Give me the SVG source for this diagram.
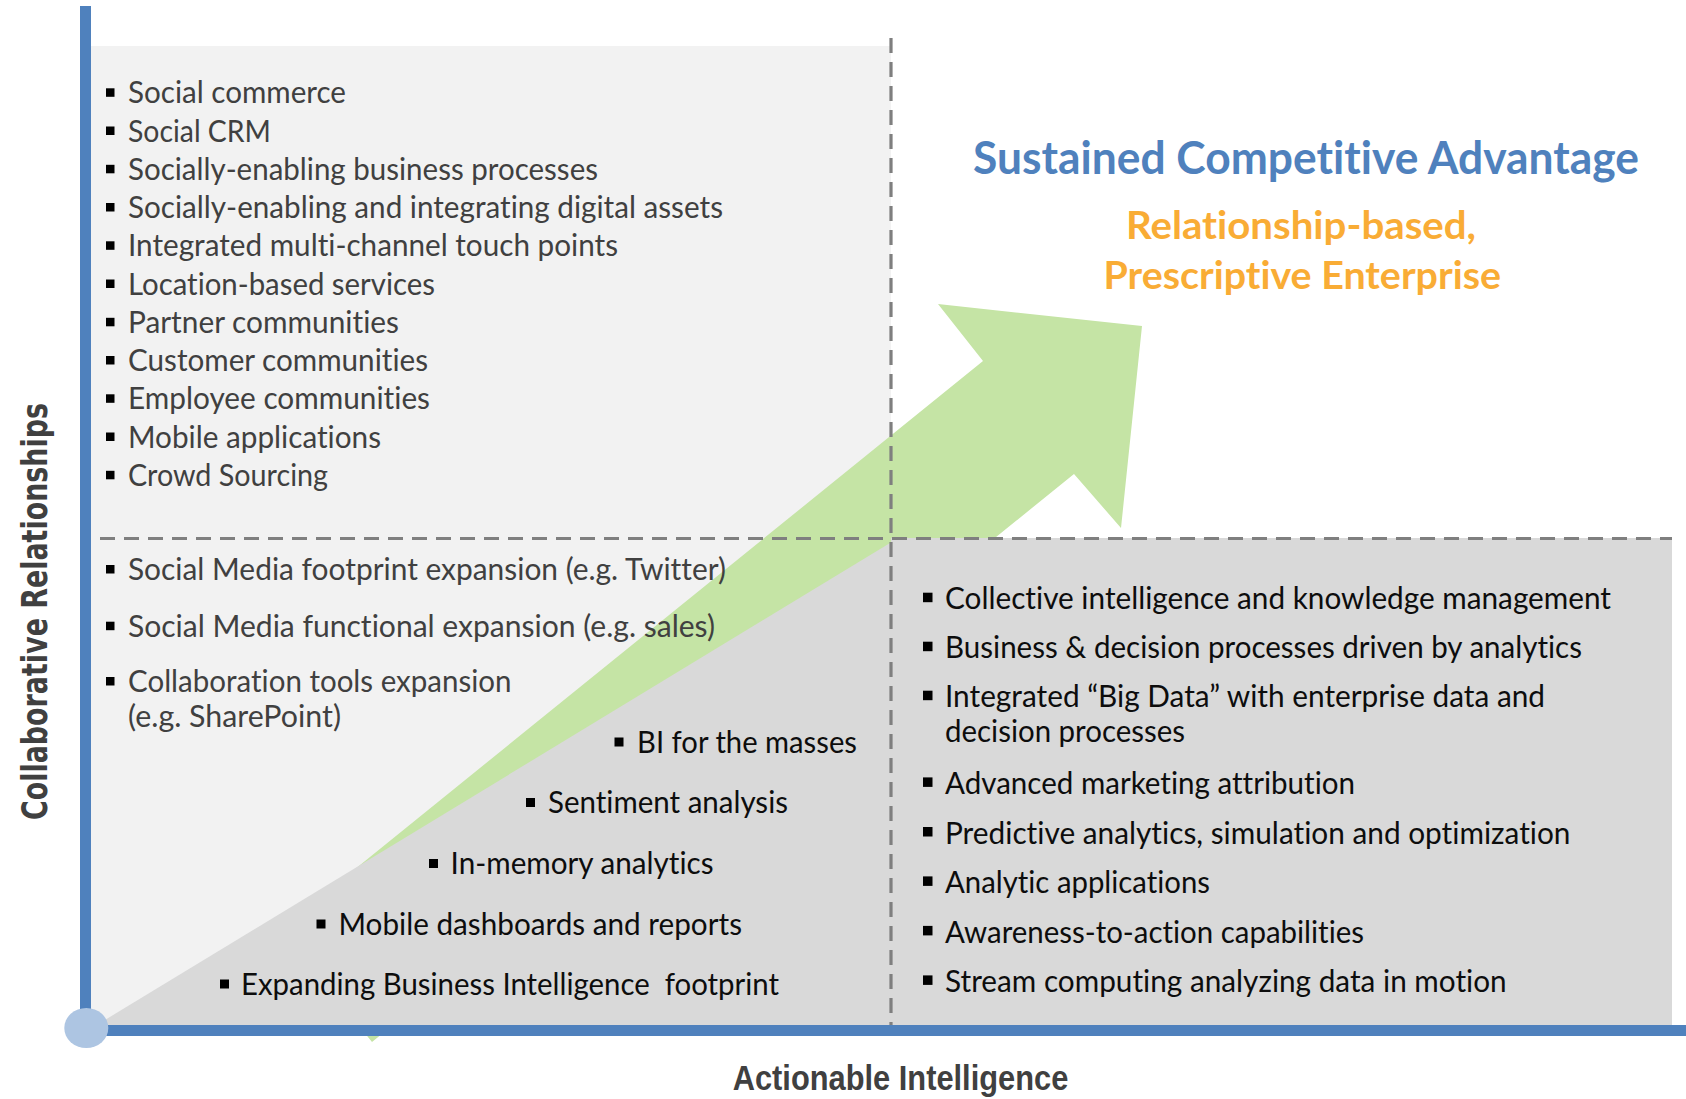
<svg xmlns="http://www.w3.org/2000/svg" width="1686" height="1099" viewBox="0 0 1686 1099">
<style>
text{font-variant-ligatures:none;font-feature-settings:"liga" 0,"clig" 0,"dlig" 0}
.t{font-family:Lato,"Liberation Sans",sans-serif;font-size:30px}
.g{fill:#404040}
.k{fill:#0d0d0d}
.bul{fill:#000}
.dash{stroke:#7f7f7f;stroke-width:3.2;stroke-dasharray:15 9;fill:none}
.axis{fill:#4f81bd}
.h1{font-family:Lato,"Liberation Sans",sans-serif;font-weight:700;font-size:46px;fill:#4f81bd}
.h2{font-family:Lato,"Liberation Sans",sans-serif;font-weight:700;font-size:39px;fill:#f9ac35}
.lab{font-weight:700;fill:#404040}
</style>
<rect width="1686" height="1099" fill="#fff"/>

<g id="quadrant-top-left">
<rect x="91" y="46" width="800" height="980" fill="#f2f2f2"/>
</g>

<g id="growth-arrow">
<polygon points="281,929 983,361 938,304 1142,326 1121,528 1074,474 372,1042" fill="#c5e4a5"/>
</g>

<g id="quadrant-bottom">
<polygon points="95,1026 895,540 895,1026" fill="#d9d9d9"/>
<rect x="891" y="538" width="781" height="488" fill="#d9d9d9"/>
</g>

<g id="connectors">
<line class="dash" x1="891" y1="38" x2="891" y2="1030"/>
<line class="dash" x1="100" y1="538.5" x2="1672" y2="538.5"/>
<rect class="axis" x="80" y="6" width="11" height="1030"/>
<rect class="axis" x="86" y="1025" width="1600" height="11"/>
<ellipse cx="86.3" cy="1028" rx="22" ry="20" fill="#adc5e2"/>
</g>

<g id="list-social">
<rect class="bul" x="106" y="88.3" width="8.5" height="8.5"/><text class="t g" x="128" y="103.3" textLength="218" lengthAdjust="spacingAndGlyphs">Social commerce</text>
<rect class="bul" x="106" y="126.5" width="8.5" height="8.5"/><text class="t g" x="128" y="141.5" textLength="143" lengthAdjust="spacingAndGlyphs">Social CRM</text>
<rect class="bul" x="106" y="164.8" width="8.5" height="8.5"/><text class="t g" x="128" y="179.8" textLength="470" lengthAdjust="spacingAndGlyphs">Socially-enabling business processes</text>
<rect class="bul" x="106" y="203" width="8.5" height="8.5"/><text class="t g" x="128" y="218" textLength="595" lengthAdjust="spacingAndGlyphs">Socially-enabling and integrating digital assets</text>
<rect class="bul" x="106" y="241.3" width="8.5" height="8.5"/><text class="t g" x="128" y="256.3" textLength="490" lengthAdjust="spacingAndGlyphs">Integrated multi-channel touch points</text>
<rect class="bul" x="106" y="279.5" width="8.5" height="8.5"/><text class="t g" x="128" y="294.5" textLength="307" lengthAdjust="spacingAndGlyphs">Location-based services</text>
<rect class="bul" x="106" y="317.8" width="8.5" height="8.5"/><text class="t g" x="128" y="332.8" textLength="271" lengthAdjust="spacingAndGlyphs">Partner communities</text>
<rect class="bul" x="106" y="356" width="8.5" height="8.5"/><text class="t g" x="128" y="371" textLength="300" lengthAdjust="spacingAndGlyphs">Customer communities</text>
<rect class="bul" x="106" y="394.3" width="8.5" height="8.5"/><text class="t g" x="128" y="409.3" textLength="302" lengthAdjust="spacingAndGlyphs">Employee communities</text>
<rect class="bul" x="106" y="432.5" width="8.5" height="8.5"/><text class="t g" x="128" y="447.5" textLength="253" lengthAdjust="spacingAndGlyphs">Mobile applications</text>
<rect class="bul" x="106" y="470.8" width="8.5" height="8.5"/><text class="t g" x="128" y="485.8" textLength="200" lengthAdjust="spacingAndGlyphs">Crowd Sourcing</text>
</g>

<g id="list-social-media">
<rect class="bul" x="106" y="565" width="8.5" height="8.5"/><text class="t g" x="128" y="580" textLength="598" lengthAdjust="spacingAndGlyphs">Social Media footprint expansion (e.g. Twitter)</text>
<rect class="bul" x="106" y="621.7" width="8.5" height="8.5"/><text class="t g" x="128" y="636.7" textLength="587" lengthAdjust="spacingAndGlyphs">Social Media functional expansion (e.g. sales)</text>
<rect class="bul" x="106" y="677" width="8.5" height="8.5"/><text class="t g" x="128" y="692" textLength="383.5" lengthAdjust="spacingAndGlyphs">Collaboration tools expansion</text>
<text class="t g" x="128" y="726.5" textLength="213" lengthAdjust="spacingAndGlyphs">(e.g. SharePoint)</text>
</g>

<g id="list-bi">
<rect class="bul" x="614.5" y="737.5" width="9" height="9"/><text class="t k" x="637" y="752.5" textLength="220" lengthAdjust="spacingAndGlyphs">BI for the masses</text>
<rect class="bul" x="526" y="798" width="9" height="9"/><text class="t k" x="548" y="813" textLength="240" lengthAdjust="spacingAndGlyphs">Sentiment analysis</text>
<rect class="bul" x="429" y="859" width="9" height="9"/><text class="t k" x="450.6" y="874" textLength="263" lengthAdjust="spacingAndGlyphs">In-memory analytics</text>
<rect class="bul" x="316.5" y="919.5" width="9" height="9"/><text class="t k" x="338.5" y="934.5" textLength="403.5" lengthAdjust="spacingAndGlyphs">Mobile dashboards and reports</text>
<rect class="bul" x="220" y="979.5" width="9" height="9"/><text class="t k" x="241" y="994.5" textLength="538" lengthAdjust="spacingAndGlyphs" xml:space="preserve">Expanding Business Intelligence  footprint</text>
</g>

<g id="list-analytics">
<rect class="bul" x="923" y="592.7" width="9.5" height="9.5"/><text class="t k" x="945" y="609.3" textLength="666" lengthAdjust="spacingAndGlyphs">Collective intelligence and knowledge management</text>
<rect class="bul" x="923" y="641.7" width="9.5" height="9.5"/><text class="t k" x="945" y="658.3" textLength="637" lengthAdjust="spacingAndGlyphs">Business &amp; decision processes driven by analytics</text>
<rect class="bul" x="923" y="690.7" width="9.5" height="9.5"/><text class="t k" x="945" y="707.3" textLength="600" lengthAdjust="spacingAndGlyphs">Integrated “Big Data” with enterprise data and</text>
<text class="t k" x="945" y="741.7" textLength="240" lengthAdjust="spacingAndGlyphs">decision processes</text>
<rect class="bul" x="923" y="777.4" width="9.5" height="9.5"/><text class="t k" x="945" y="794" textLength="410" lengthAdjust="spacingAndGlyphs">Advanced marketing attribution</text>
<rect class="bul" x="923" y="827" width="9.5" height="9.5"/><text class="t k" x="945" y="843.6" textLength="625.5" lengthAdjust="spacingAndGlyphs">Predictive analytics, simulation and optimization</text>
<rect class="bul" x="923" y="876.4" width="9.5" height="9.5"/><text class="t k" x="945" y="893" textLength="265" lengthAdjust="spacingAndGlyphs">Analytic applications</text>
<rect class="bul" x="923" y="925.9" width="9.5" height="9.5"/><text class="t k" x="945" y="942.5" textLength="419" lengthAdjust="spacingAndGlyphs">Awareness-to-action capabilities</text>
<rect class="bul" x="923" y="975.4" width="9.5" height="9.5"/><text class="t k" x="945" y="992" textLength="561.7" lengthAdjust="spacingAndGlyphs">Stream computing analyzing data in motion</text>
</g>

<g id="title">
<text class="h1" x="973" y="174" textLength="666" lengthAdjust="spacingAndGlyphs">Sustained Competitive Advantage</text>
<text class="h2" x="1126" y="239" textLength="350" lengthAdjust="spacingAndGlyphs">Relationship-based,</text>
<text class="h2" x="1103.5" y="289" textLength="397.5" lengthAdjust="spacingAndGlyphs">Prescriptive Enterprise</text>
</g>

<g id="axis-y-label">
<text class="lab" transform="translate(46.7 820) rotate(-90)" x="0" y="0" font-family="'DejaVu Sans',Verdana,sans-serif" font-size="35" textLength="417" lengthAdjust="spacingAndGlyphs">Collaborative Relationships</text>
</g>

<g id="axis-x-label">
<text class="lab" x="732.7" y="1090" font-family="'Liberation Sans Narrow','Liberation Sans',Arial,sans-serif" font-size="35" textLength="335.6" lengthAdjust="spacingAndGlyphs">Actionable Intelligence</text>
</g>
</svg>
